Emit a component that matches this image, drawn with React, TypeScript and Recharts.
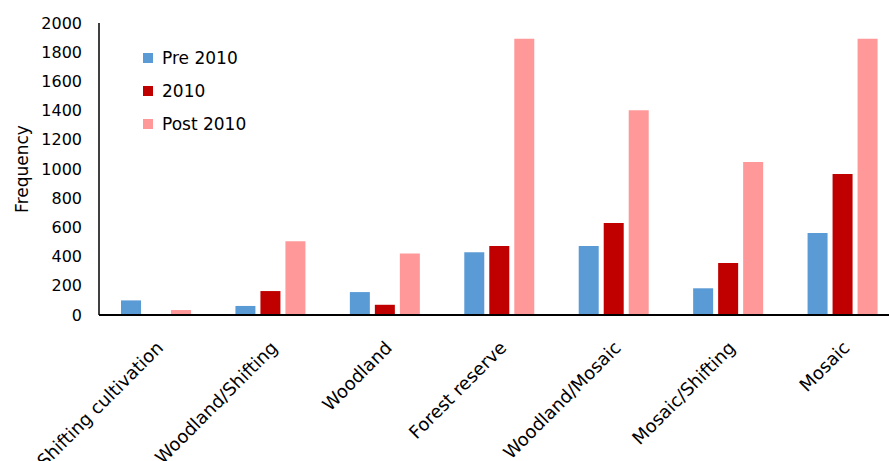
import React from 'react';
import { BarChart, Bar, XAxis, YAxis, Legend } from 'recharts';

const categories = [
  'Shifting cultivation',
  'Woodland/Shifting',
  'Woodland',
  'Forest reserve',
  'Woodland/Mosaic',
  'Mosaic/Shifting',
  'Mosaic',
];
const pre2010 = [100, 62, 157, 430, 473, 183, 562];
const y2010 = [0, 164, 70, 473, 630, 356, 966];
const post2010 = [34, 505, 422, 1892, 1402, 1048, 1892];
const yTicks = [0, 200, 400, 600, 800, 1000, 1200, 1400, 1600, 1800, 2000];

const data = categories.map((name, i) => ({
  name,
  pre: pre2010[i],
  mid: y2010[i],
  post: post2010[i],
}));

const FONT = '"DejaVu Sans", sans-serif';

const XTick = (props: any) => {
  const { x, y, payload } = props;
  return (
    <text
      transform={`translate(${x + 8},${y + 34}) rotate(-45)`}
      textAnchor="end"
      fontFamily={FONT}
      fontSize={18}
      fill="#000"
    >
      {payload.value}
    </text>
  );
};

const LegendContent = (props: any) => {
  const { payload } = props;
  return (
    <div style={{ fontFamily: FONT, fontSize: 17, color: '#000' }}>
      {(payload || []).map((p: any) => (
        <div key={p.value} style={{ display: 'flex', alignItems: 'center', height: 33 }}>
          <span style={{ display: 'inline-block', width: 10, height: 10, background: p.color, marginRight: 9 }} />
          <span>{p.value}</span>
        </div>
      ))}
    </div>
  );
};

export default function App() {
  return (
    <div style={{ position: 'absolute', left: 0, top: 0, width: 889, height: 461, overflow: 'hidden', background: '#fff' }}>
      <BarChart
        width={900}
        height={461}
        data={data}
        margin={{ top: 23, right: 0, left: 0, bottom: 0 }}
        barSize={20}
        barGap={5}
      >
        <XAxis
          dataKey="name"
          interval={0}
          height={146}
          tickLine={false}
          tickSize={0}
          tickMargin={0}
          axisLine={{ stroke: '#000', strokeWidth: 2 }}
          tick={<XTick />}
        />
        <YAxis
          width={99}
          domain={[0, 2000]}
          ticks={yTicks}
          interval={0}
          tickLine={false}
          tickSize={0}
          tickMargin={17}
          axisLine={{ stroke: '#000', strokeWidth: 1.5 }}
          tick={{ fontFamily: FONT, fontSize: 16, fill: '#000' }}
          label={{
            value: 'Frequency',
            angle: -90,
            position: 'insideLeft',
            offset: 22,
            style: { textAnchor: 'middle', fontFamily: FONT, fontSize: 17, fill: '#000' },
          }}
        />
        <Legend
          layout="horizontal"
          align="center"
          verticalAlign="middle"
          itemSorter={null as any}
          wrapperStyle={{ left: 143, top: 41, width: 'auto', height: 'auto' }}
          content={<LegendContent />}
        />
        <Bar dataKey="pre" name="Pre 2010" fill="#5B9BD5" isAnimationActive={false} />
        <Bar dataKey="mid" name="2010" fill="#C00000" isAnimationActive={false} />
        <Bar dataKey="post" name="Post 2010" fill="#FF9999" isAnimationActive={false} />
      </BarChart>
    </div>
  );
}
